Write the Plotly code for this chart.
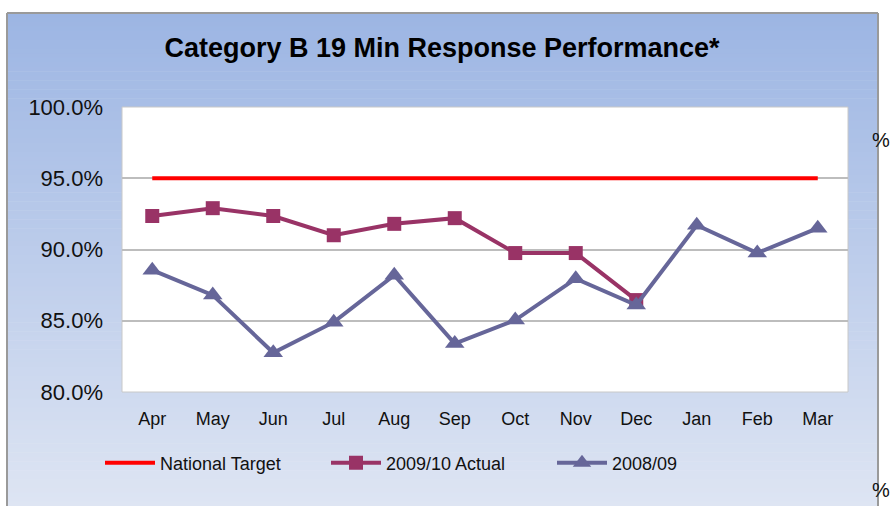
import plotly.graph_objects as go

months = ["Apr", "May", "Jun", "Jul", "Aug", "Sep", "Oct", "Nov", "Dec", "Jan", "Feb", "Mar"]
national_target = [95.0, 95.0, 95.0, 95.0, 95.0, 95.0, 95.0, 95.0, 95.0, 95.0, 95.0, 95.0]
actual_2009_10 = [92.35, 92.9, 92.35, 91.0, 91.8, 92.2, 89.75, 89.75, 86.45, None, None, None]
series_2008_09 = [88.55, 86.8, 82.75, 84.9, 88.2, 83.4, 85.05, 87.95, 86.1, 91.7, 89.75, 91.5]
y_ticks = [80, 85, 90, 95, 100]
y_tick_labels = ["80.0%", "85.0%", "90.0%", "95.0%", "100.0%"]

W, H = 892, 506
L, R, T, B = 122, 848, 107, 392


def fx(px):
    return (px - L) / (R - L)


def fy(py):
    return (B - py) / (B - T)


FONT = "Liberation Sans, Arial, sans-serif"

shapes = []
top_c = (156, 181, 227)
bot_c = (222, 229, 243)
gy0, gy1 = 13, 506
n = 110
for i in range(n):
    a = gy0 + (gy1 - gy0) * i / n
    b = gy0 + (gy1 - gy0) * (i + 1) / n
    t = (i + 0.5) / n
    col = "rgb(%d,%d,%d)" % tuple(round(top_c[k] + (bot_c[k] - top_c[k]) * t) for k in range(3))
    shapes.append(dict(type="rect", xref="paper", yref="paper", x0=fx(7), x1=fx(878),
                       y0=fy(b + 0.6), y1=fy(a), fillcolor=col, line_width=0, layer="below"))
# plot area
shapes.append(dict(type="rect", xref="paper", yref="paper", x0=0, x1=1, y0=0, y1=1,
                   fillcolor="white", line=dict(color="#C8C8C8", width=1), layer="below"))
# outer frame
frame_col = "#9A9A9A"
shapes.append(dict(type="line", xref="paper", yref="paper", x0=fx(7), x1=fx(7), y0=fy(13), y1=fy(510),
                   line=dict(color=frame_col, width=2), layer="below"))
shapes.append(dict(type="line", xref="paper", yref="paper", x0=fx(7), x1=fx(878), y0=fy(13), y1=fy(13),
                   line=dict(color=frame_col, width=2), layer="below"))
shapes.append(dict(type="line", xref="paper", yref="paper", x0=fx(878), x1=fx(878), y0=fy(13), y1=fy(510),
                   line=dict(color=frame_col, width=2), layer="below"))

fig = go.Figure()
fig.add_trace(go.Scatter(x=months, y=national_target, name="National Target", mode="lines",
                         line=dict(color="#FF0000", width=4)))
fig.add_trace(go.Scatter(x=months, y=actual_2009_10, name="2009/10 Actual", mode="lines+markers",
                         line=dict(color="#993366", width=4),
                         marker=dict(symbol="square", size=14, color="#993366")))
fig.add_trace(go.Scatter(x=months, y=series_2008_09, name="2008/09", mode="lines+markers",
                         line=dict(color="#666699", width=4),
                         marker=dict(symbol="triangle-up", size=17, color="#666699")))

fig.update_layout(
    width=W, height=H,
    margin=dict(l=L, r=W - R, t=T, b=H - B),
    paper_bgcolor="white",
    plot_bgcolor="rgba(0,0,0,0)",
    font=dict(family=FONT, color="#111111"),
    shapes=shapes,
    title=dict(text="<b>Category B 19 Min Response Performance*</b>",
               font=dict(family=FONT, size=27, color="#000000"),
               x=442 / W, xref="container", xanchor="center",
               y=1 - 48 / H, yref="container", yanchor="middle"),
    xaxis=dict(type="category", range=[-0.5, 11.5], showgrid=False, zeroline=False,
               showline=False, ticks="", tickfont=dict(size=18, family=FONT, color="#111111"),
               ticklabelstandoff=14),
    yaxis=dict(range=[80, 100], tickmode="array", tickvals=y_ticks, ticktext=y_tick_labels,
               showgrid=True, gridcolor="#BDBDBD", gridwidth=1.5, zeroline=False,
               showline=False, ticks="", tickfont=dict(size=22, family=FONT, color="#111111"),
               ticklabelstandoff=18),
    showlegend=True,
    legend=dict(orientation="h", xref="container", x=100 / W, xanchor="left",
                yref="container", y=1 - 463 / H, yanchor="middle",
                font=dict(size=18, family=FONT, color="#111111"),
                bgcolor="rgba(0,0,0,0)", itemwidth=50,
                entrywidth=161, entrywidthmode="pixels", tracegroupgap=0),
    annotations=[
        dict(text="%", xref="paper", yref="paper", x=fx(892), y=fy(140), xanchor="right",
             yanchor="middle", showarrow=False, font=dict(size=20, family=FONT, color="#111111")),
        dict(text="%", xref="paper", yref="paper", x=fx(892), y=fy(490), xanchor="right",
             yanchor="middle", showarrow=False, font=dict(size=20, family=FONT, color="#111111")),
    ],
)

fig.write_html("out.html", config={"displayModeBar": False},
               post_script="document.body.style.margin='0px';")
